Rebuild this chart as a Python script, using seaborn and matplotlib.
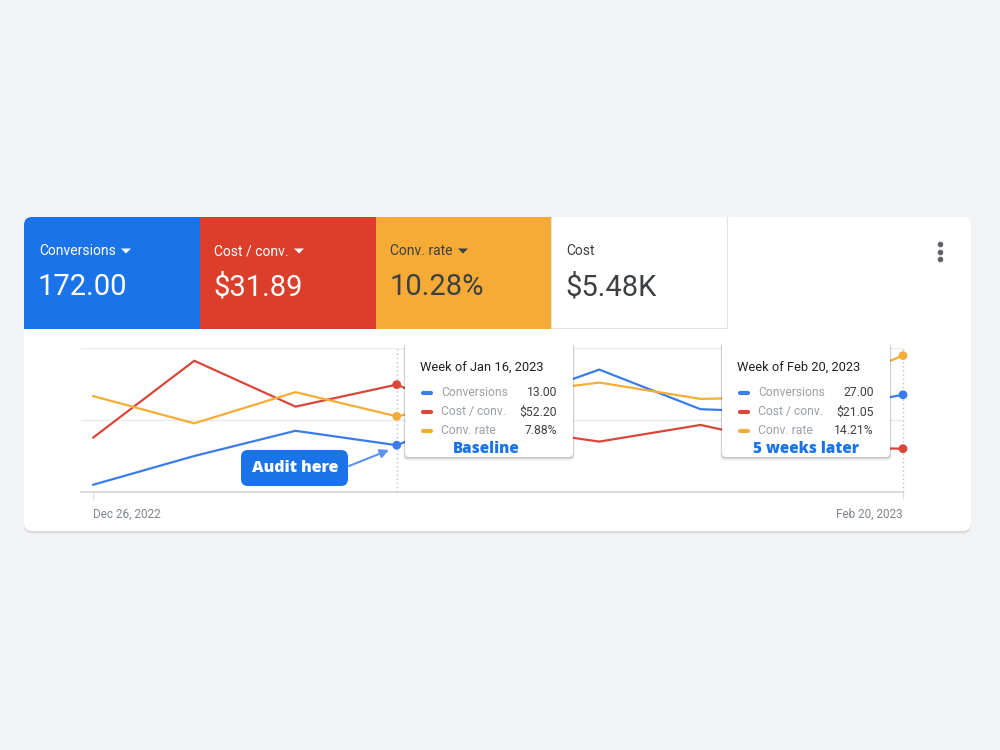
import matplotlib
matplotlib.use("Agg")
import matplotlib.pyplot as plt
from matplotlib.patches import FancyBboxPatch, Rectangle, Polygon
import seaborn as sns
import pandas as pd
import numpy as np

sns.set_theme(style="white")
plt.rcParams['font.family'] = ['Roboto', 'DejaVu Sans']

# weekly data
weeks = ["Dec 26, 2022", "Jan 2, 2023", "Jan 9, 2023", "Jan 16, 2023", "Jan 23, 2023",
         "Jan 30, 2023", "Feb 6, 2023", "Feb 13, 2023", "Feb 20, 2023"]
conversions = [2, 10, 17, 13, 24, 34, 23, 22, 27]
cost_per_conv = [26.4, 63.8, 41.5, 52.20, 31.6, 24.5, 32.6, 21.9, 21.05]
conv_rate = [10.0, 7.15, 10.4, 7.88, 10.05, 11.4, 9.7, 9.9, 14.21]

# summary tiles
tile_labels = ["Conversions", "Cost / conv.", "Conv. rate", "Cost"]
tile_values = ["172.00", "$31.89", "10.28%", "$5.48K"]
tile_colors = ["#1a73e8", "#db3f2b", "#f5ab35", "#ffffff"]
tile_text = ["white", "white", "#3c4043", "#3c4043"]

series_names = ["Conversions", "Cost / conv.", "Conv. rate"]
line_colors = ["#3a7ced", "#d9463a", "#f6ad38"]
y_tops = [40, 70, 15]

# tooltips
tip_weeks = [3, 8]
tip_titles = ["Week of Jan 16, 2023", "Week of Feb 20, 2023"]
tip_values = [["13.00", "$52.20", "7.88%"], ["27.00", "$21.05", "14.21%"]]
tip_notes = ["Baseline", "5 weeks later"]

df = pd.DataFrame({"week": np.arange(len(weeks)),
                   "Conversions": conversions,
                   "Cost / conv.": cost_per_conv,
                   "Conv. rate": conv_rate})

fig = plt.figure(figsize=(10, 7.5), dpi=100, facecolor="#f1f3f4")

# ---- background layer (pixel coords) ----
bg = fig.add_axes([0, 0, 1, 1], zorder=0)
bg.set_xlim(0, 1000)
bg.set_ylim(750, 0)
bg.axis("off")

for off, c in [(2.5, "#e3e5e8"), (1.5, "#d6d8db")]:
    bg.add_patch(FancyBboxPatch((24, 217 + off), 947, 314, boxstyle="round,pad=0,rounding_size=8",
                                fc=c, ec="none"))
card = FancyBboxPatch((24, 217), 947, 314, boxstyle="round,pad=0,rounding_size=8",
                      fc="white", ec="none")
bg.add_patch(card)

tile_x = [24, 199.5, 375.5, 551]
tile_w = 176
for i, (lab, val) in enumerate(zip(tile_labels, tile_values)):
    x0 = tile_x[i]
    if i == 3:
        r = Rectangle((x0, 216), tile_w - 0.5, 112, fc="white", ec="#e3e3e3", lw=0.8)
    else:
        r = Rectangle((x0, 216), tile_w, 112.5, fc=tile_colors[i], ec="none")
    bg.add_patch(r)
    r.set_clip_path(card)
    bg.text(x0 + 15, 251, lab, fontsize=10, color=tile_text[i], va="center", ha="left")
    bg.text(x0 + 14, 287, val, fontsize=21, color=tile_text[i], va="center", ha="left")

# dropdown carets
for x, c in zip([126, 299, 463], tile_text[:3]):
    bg.add_patch(Polygon([[x - 5, 248.5], [x + 5, 248.5], [x, 253.5]], closed=True, fc=c, ec="none"))

bg.scatter([940, 940, 940], [244, 252, 259], s=9, color="#5f6368")

# ---- chart ----
ax = fig.add_axes([0.081, 1 - 492 / 750, 0.822, 144 / 750], zorder=2)
ax.patch.set_visible(False)
axes = [ax, ax.twinx(), ax.twinx()]

for a, name, col, top in zip(axes, series_names, line_colors, y_tops):
    a.set_zorder(2)
    a.patch.set_visible(False)
    sns.lineplot(data=df, x="week", y=name, ax=a, color=col, lw=1.6, clip_on=False)
    sns.scatterplot(x=df["week"].iloc[tip_weeks], y=df[name].iloc[tip_weeks], ax=a,
                    color=col, s=40, edgecolor="none", zorder=5, clip_on=False)
    a.set_ylim(0, top)
    a.set_xlim(-12 / 101.25, 8)
    a.set_ylabel("")
    a.set_yticks([])
    for s in a.spines.values():
        s.set_visible(False)

ax.axhline(40, color="#e8eaed", lw=1, zorder=0)
ax.axhline(20, color="#e8eaed", lw=1, zorder=0)
ax.axhline(0, color="#dadce0", lw=1.5, zorder=0, clip_on=False)
for w in tip_weeks:
    ax.axvline(w, color="#bdc1c6", lw=1, ls=(0, (1, 2)), zorder=0, clip_on=False)

ax.set_xlabel("")
ax.set_xticks([0, 8])
ax.set_xticklabels([weeks[0], weeks[-1]], fontsize=8.5, color="#80868b")
labs = ax.get_xticklabels()
labs[0].set_ha("left")
labs[1].set_ha("right")
ax.tick_params(axis="x", length=5, width=0.8, color="#dadce0", pad=6, bottom=True)
for a in axes[1:]:
    a.tick_params(axis="x", bottom=False, labelbottom=False)

# ---- foreground: tooltips and callout ----
fg = fig.add_axes([0, 0, 1, 1], zorder=10)
fg.patch.set_visible(False)
fg.set_xlim(0, 1000)
fg.set_ylim(750, 0)
fg.axis("off")

tip_box_x = [405, 722]
tip_note_x = [486, 806]
for k in range(2):
    bx = tip_box_x[k]
    for off, alpha in [(3, 0.05), (2, 0.08), (1, 0.12)]:
        fg.add_patch(FancyBboxPatch((bx - off * 0.5, 342 + off * 0.6), 168 + off, 115 + off * 0.6,
                                    boxstyle="round,pad=0,rounding_size=4",
                                    fc="black", alpha=alpha, ec="none"))
    fg.add_patch(FancyBboxPatch((bx, 342), 168, 115, boxstyle="round,pad=0,rounding_size=4",
                                fc="white", ec="none"))
    fg.text(bx + 15, 367, tip_titles[k], fontsize=9.3, color="#202124", va="center")
    for j in range(3):
        yy = 393 + j * 19
        fg.plot([bx + 18, bx + 26], [yy, yy], color=line_colors[j], lw=3, solid_capstyle="round")
        fg.text(bx + 36, yy, series_names[j], fontsize=8.7, color="#9aa0a6", va="center")
        fg.text(bx + 152, yy, tip_values[k][j], fontsize=8.7, color="#3c4043", va="center", ha="right")
    fg.text(tip_note_x[k], 449, tip_notes[k], fontsize=11, color="#1a73e8", fontweight="heavy",
            family="Open Sans", va="center", ha="center")

fg.add_patch(FancyBboxPatch((241, 450), 107, 36, boxstyle="round,pad=0,rounding_size=7",
                            fc="#1a73e8", ec="none"))
fg.text(295, 468, "Audit here", fontsize=11.5, color="white", fontweight="heavy",
        family="Open Sans", va="center", ha="center")
fg.annotate("", xy=(389, 450), xytext=(349, 466),
            arrowprops=dict(arrowstyle="-|>", color="#5b93f0", lw=1.5, mutation_scale=13,
                            shrinkA=0, shrinkB=0))

fig.savefig("out.png", dpi=100, facecolor=fig.get_facecolor())
